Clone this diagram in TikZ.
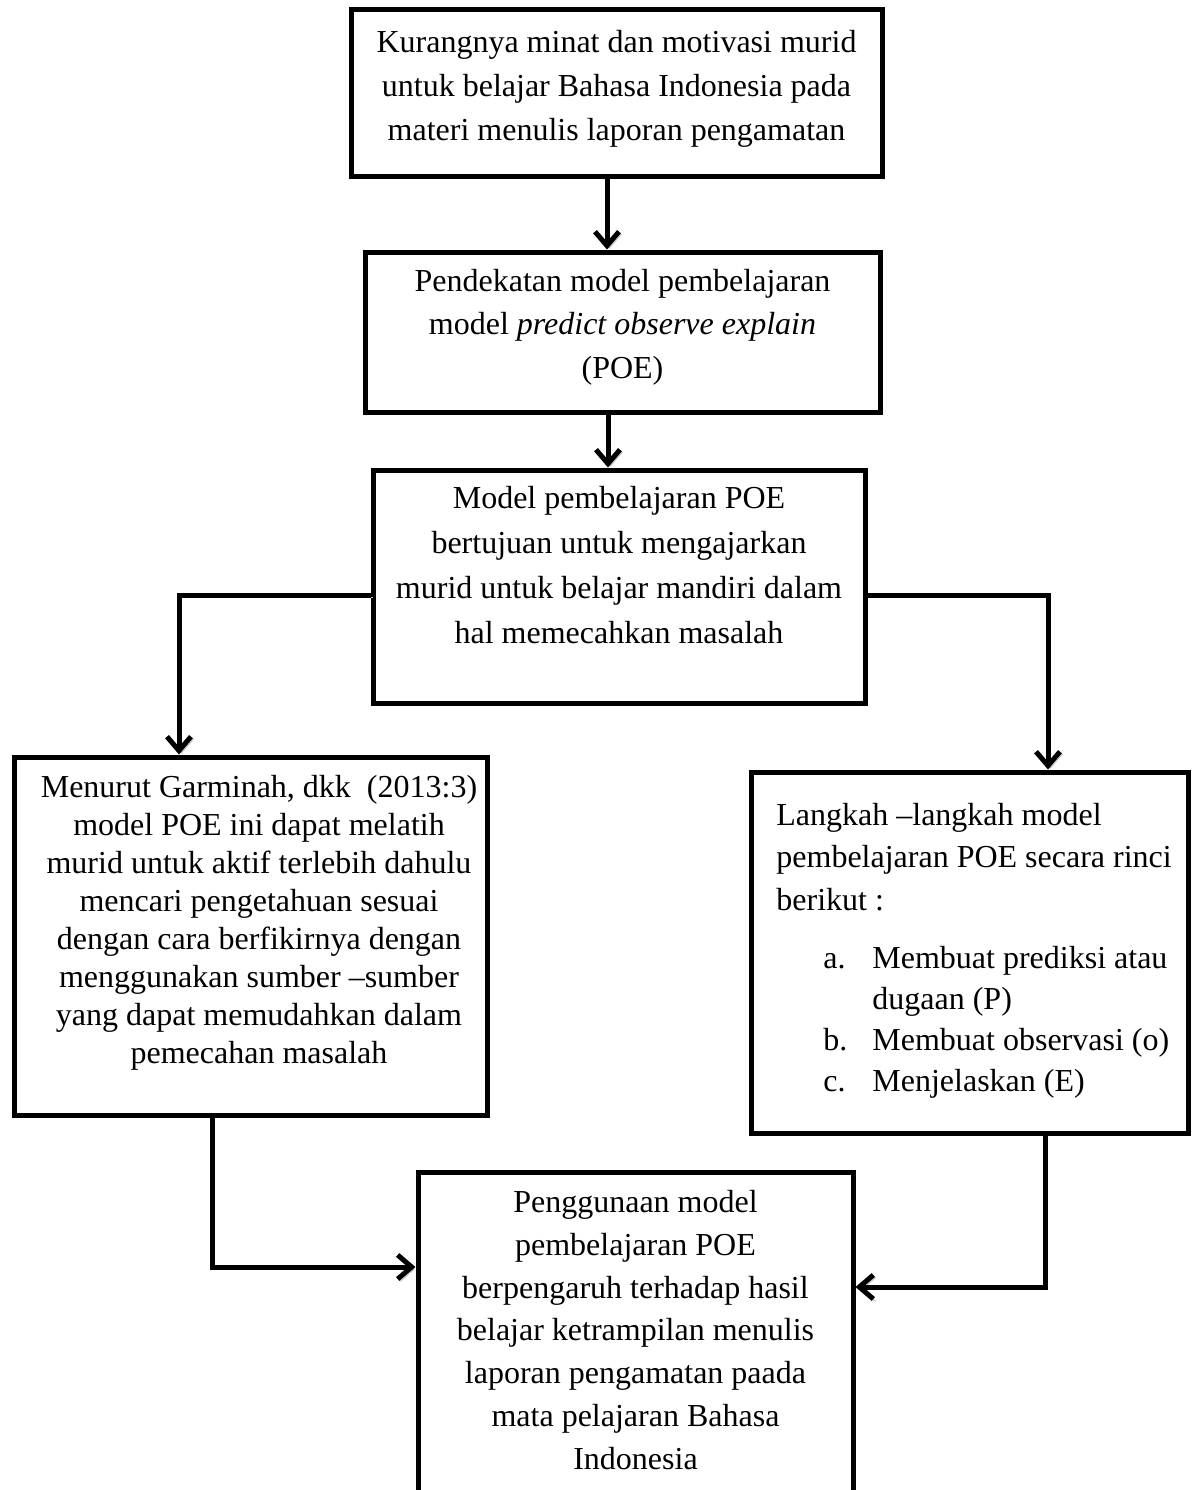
\documentclass[tikz,border=0pt]{standalone}
\usepackage{fontspec}
\setmainfont{Liberation Serif}
\usetikzlibrary{arrows.meta}
\tikzset{
  box/.style={draw=black, line width=2.5pt, rectangle, inner sep=0pt},
  txt/.style={inner sep=0pt, align=center},
  conn/.style={line width=2.5pt, -{Straight Barb[length=7pt,width=12pt]},
    preaction={draw=gray!55, transform canvas={shift={(1.2pt,-1.2pt)}}}},
}
\begin{document}
\begin{tikzpicture}[x=0.5pt, y=-0.5pt]
\useasboundingbox (0,0) rectangle (1192,1490);
% boxes
\node[box, minimum width=265.5pt, minimum height=83.5pt] (b1) at (616.5,92.5) {};
\node[box, minimum width=257.5pt, minimum height=80pt] (b2) at (622.5,332) {};
\node[box, minimum width=246pt, minimum height=116.5pt] (b3) at (619,586.5) {};
\node[box, minimum width=236.5pt, minimum height=179pt] (lb) at (250.5,936) {};
\node[box, minimum width=218.5pt, minimum height=180.5pt] (rb) at (969.5,952.5) {};
\node[box, minimum width=217.5pt, minimum height=169pt] (bb) at (635.5,1341) {};
% texts
\node[txt, font=\fontsize{16}{22}\selectfont] (t1) at (616.5,89)
  {Kurangnya minat dan motivasi murid\\untuk belajar Bahasa Indonesia pada\\materi menulis laporan pengamatan};
\node[txt, font=\fontsize{16}{21.75}\selectfont] (t2) at (622.5,327)
  {Pendekatan model pembelajaran\\model \textit{predict observe explain}\\(POE)};
\node[txt, font=\fontsize{16}{22.5}\selectfont] (t3) at (619,565)
  {Model pembelajaran POE\\bertujuan untuk mengajarkan\\murid untuk belajar mandiri dalam\\hal memecahkan masalah};
\node[txt, font=\fontsize{16}{19}\selectfont] (t4) at (259,923)
  {Menurut Garminah, dkk\ \ (2013:3)\\model POE ini dapat melatih\\murid untuk aktif terlebih dahulu\\mencari pengetahuan sesuai\\dengan cara berfikirnya dengan\\menggunakan sumber --sumber\\yang dapat memudahkan dalam\\pemecahan masalah};
\node[txt, align=left, anchor=west, font=\fontsize{16}{21.25}\selectfont] (t5) at (776,857)
  {Langkah --langkah model\\pembelajaran POE secara rinci\\berikut :};
\node[txt, anchor=west, font=\fontsize{16}{20.5}\selectfont] (t6) at (823,1021.5)
  {\renewcommand\arraystretch{1}\begin{tabular}{@{}p{24.5pt}@{}l@{}}
  a. & Membuat prediksi atau\\
     & dugaan (P)\\
  b. & Membuat observasi (o)\\
  c. & Menjelaskan (E)
  \end{tabular}};
\node[txt, font=\fontsize{16}{21.35}\selectfont] (t7) at (635.5,1330)
  {Penggunaan model\\pembelajaran POE\\berpengaruh terhadap hasil\\belajar ketrampilan menulis\\laporan pengamatan paada\\mata pelajaran Bahasa\\Indonesia};
% connector helper coordinates
\coordinate (c12) at (607,0);
\coordinate (c23) at (608,0);
\coordinate (br) at (0,595);
\coordinate (cl) at (179,0);
\coordinate (cr) at (1048,0);
\coordinate (cld) at (212,1267);
\coordinate (crd) at (1045,1287);
% connectors
\draw[conn] (b1.south -| c12) -- (b2.north -| c12);
\draw[conn] (b2.south -| c23) -- (b3.north -| c23);
\draw[conn] (b3.west |- br) -| (lb.north -| cl);
\draw[conn] (b3.east |- br) -| (rb.north -| cr);
\draw[conn] (lb.south -| cld) |- (bb.west |- cld);
\draw[conn] (rb.south -| crd) |- (bb.east |- crd);
\end{tikzpicture}
\end{document}
